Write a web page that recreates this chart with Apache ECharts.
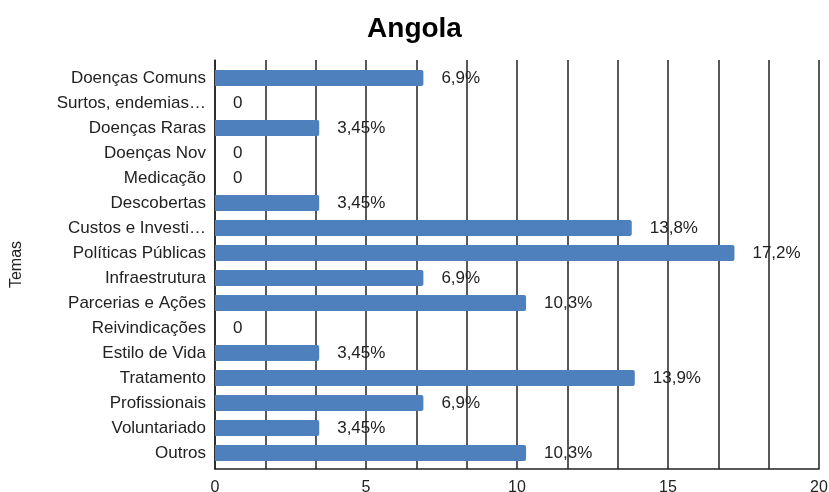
<!DOCTYPE html>
<html>
<head>
<meta charset="utf-8">
<script src="https://cdn.jsdelivr.net/npm/echarts@6/dist/echarts.min.js"></script>
<style>
  html, body { margin: 0; padding: 0; background: #fff; }
  #chart { width: 829px; height: 492px; }
</style>
</head>
<body>
<div id="chart"></div>
<script>
// dados do gráfico
const temas = ['Doenças Comuns', 'Surtos, endemias…', 'Doenças Raras', 'Doenças Nov', 'Medicação',
  'Descobertas', 'Custos e Investi…', 'Políticas Públicas', 'Infraestrutura', 'Parcerias e Ações',
  'Reivindicações', 'Estilo de Vida', 'Tratamento', 'Profissionais', 'Voluntariado', 'Outros'];
const valores = [6.9, 0, 3.45, 0, 0, 3.45, 13.8, 17.2, 6.9, 10.3, 0, 3.45, 13.9, 6.9, 3.45, 10.3];
const rotulos = ['6,9%', '0', '3,45%', '0', '0', '3,45%', '13,8%', '17,2%', '6,9%', '10,3%', '0',
  '3,45%', '13,9%', '6,9%', '3,45%', '10,3%'];
const xTicks = [0, 5, 10, 15, 20];

const fonte = "'Liberation Sans', Arial, Helvetica, sans-serif";

let myChart = echarts.init(document.getElementById('chart'));
myChart.setOption({
  animation: false,
  title: {
    text: 'Angola',
    left: 'center',
    top: 10,
    textStyle: { fontFamily: fonte, fontSize: 28, fontWeight: 'bold', color: '#000' }
  },
  grid: [
    // grade 0: eixos e linhas de grade
    { left: 215, right: 10, top: 60, bottom: 23, outerBoundsMode: 'none', containLabel: false },
    // grade 1: barras e rótulos das categorias
    { left: 215, right: 10, top: 65.5, bottom: 26.5, outerBoundsMode: 'none', containLabel: false }
  ],
  xAxis: [
    {
      gridIndex: 0, type: 'value', min: 0, max: 20, interval: 5,
      axisLine: { show: true, lineStyle: { color: '#222', width: 1.5 } },
      axisTick: { show: false },
      splitLine: { show: false },
      axisLabel: {
        margin: 11, color: '#222', fontSize: 16, fontFamily: fonte,
        formatter: v => xTicks.includes(v) ? String(v) : ''
      }
    },
    {
      // linhas de grade a cada 20/12
      gridIndex: 0, type: 'value', min: 0, max: 20, interval: 20 / 12, position: 'bottom',
      axisLine: { show: false }, axisTick: { show: false }, axisLabel: { show: false },
      splitLine: { show: true, lineStyle: { color: '#222', width: 1.5 } }
    },
    {
      gridIndex: 1, type: 'value', min: 0, max: 20, show: false
    }
  ],
  yAxis: [
    {
      gridIndex: 0, type: 'value', min: 0, max: 1,
      name: 'Temas',
      nameLocation: 'middle',
      nameGap: 190,
      nameTextStyle: { fontFamily: fonte, fontSize: 16, color: '#222' },
      axisLine: { show: true, lineStyle: { color: '#222', width: 1.5 } },
      axisTick: { show: false }, axisLabel: { show: false }, splitLine: { show: false }
    },
    {
      gridIndex: 1,
      type: 'category',
      data: temas,
      inverse: true,
      axisLine: { show: false },
      axisTick: { show: false },
      axisLabel: { margin: 9, color: '#222', fontSize: 17, fontFamily: fonte }
    }
  ],
  series: [{
    type: 'bar',
    xAxisIndex: 2,
    yAxisIndex: 1,
    data: valores,
    barWidth: 16,
    z: 3,
    itemStyle: { color: '#4E80BE', borderRadius: [0, 2, 2, 0] },
    label: {
      show: true,
      position: 'right',
      distance: 18,
      color: '#222',
      fontSize: 17,
      fontFamily: fonte,
      formatter: p => rotulos[p.dataIndex]
    }
  }]
});
</script>
</body>
</html>
